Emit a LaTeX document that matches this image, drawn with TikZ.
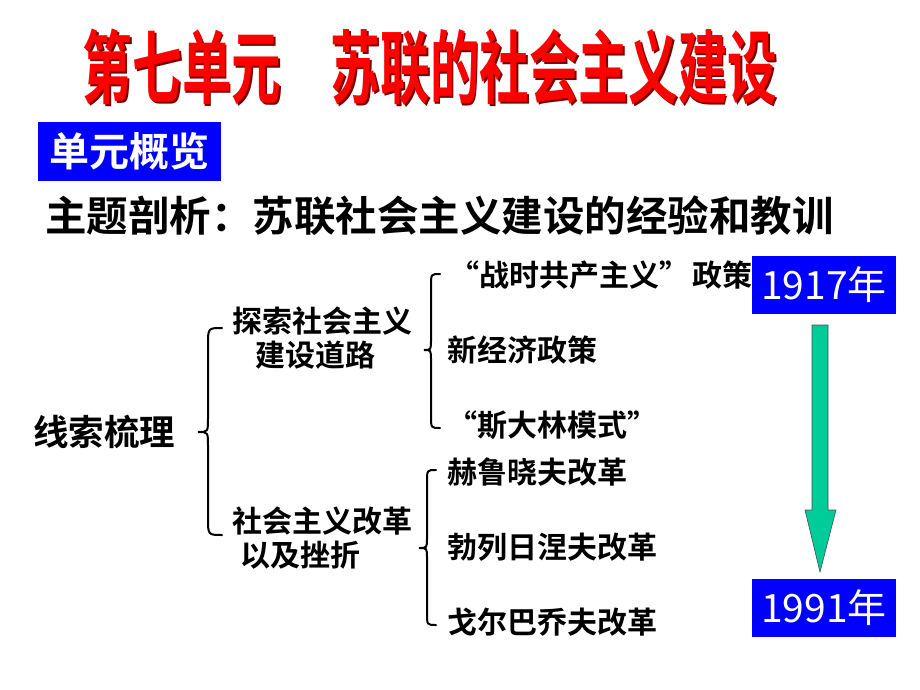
\documentclass[tikz,border=0pt]{standalone}
\usepackage{fontspec}
\setmainfont{Noto Sans CJK SC}[BoldFont={Noto Sans CJK SC Bold}]
\usepackage{graphicx}
\definecolor{boxblue}{RGB}{0,0,255}
\definecolor{titlered}{RGB}{255,0,0}
\definecolor{shadowred}{RGB}{120,0,0}
\definecolor{arrowgreen}{RGB}{0,204,153}
\newcommand{\titletext}{第七单元\hspace{1em}苏联的社会主义建设}
\begin{document}
\begin{tikzpicture}[x=1pt,y=-1pt,
  item/.style={anchor=west,inner sep=0pt,font=\bfseries\fontsize{30}{34}\selectfont},
  branch/.style={anchor=west,inner sep=0pt,align=left,font=\bfseries\fontsize{30}{34}\selectfont},
  yearbox/.style={fill=boxblue,text=white,minimum width=144pt,minimum height=58pt,inner sep=0pt,font=\fontsize{39}{39}\selectfont},
  bracel/.style={line width=2pt,line cap=round}]
\useasboundingbox (0,0) rectangle (920,690);
% title with dark red drop shadow
\node[inner sep=0pt] (title) at (430,68)
  {\scalebox{0.62}[1]{\bfseries\fontsize{80}{80}\selectfont
   \rlap{\hspace{3pt}\raisebox{-2.5pt}{\color{shadowred}\titletext}}{\color{titlered}\titletext}}};
% unit overview box
\node[fill=boxblue,text=white,minimum width=183pt,minimum height=59pt,inner sep=0pt,
  font=\bfseries\fontsize{40}{40}\selectfont] (overview) at (129.5,151.5) {单元概览};
\node[inner sep=0pt,anchor=west,font=\bfseries\fontsize{41.5}{41.5}\selectfont] (theme) at (45,216)
  {主题剖析：苏联社会主义建设的经验和教训};
% tree
\node[inner sep=0pt,anchor=west,font=\bfseries\fontsize{35.5}{35.5}\selectfont] (root) at (33,432) {线索梳理};
\node[branch] (b1) at (232,338) {探索社会主义\\\hspace{23pt}建设道路};
\node[branch] (b2) at (232,538) {社会主义改革\\\hspace{8pt}以及挫折};
\node[item] (i1) at (449,275) {“战时共产主义”\hspace{3pt}政策};
\node[item] (i2) at (447,350) {新经济政策};
\node[item] (i3) at (447,425) {“斯大林模式”};
\node[item] (i4) at (447,472) {赫鲁晓夫改革};
\node[item] (i5) at (447,547) {勃列日涅夫改革};
\node[item] (i6) at (447,622) {戈尔巴乔夫改革};
% braces
\draw[bracel] (222,328) .. controls (208,328) .. (208,345) -- (208,418)
  .. controls (208,432) .. (198,432) .. controls (208,432) .. (208,446)
  -- (208,518) .. controls (208,535) .. (222,535);
\draw[bracel] (440,274) .. controls (431,274) .. (431,286) -- (431,340)
  .. controls (431,350) .. (424,350) .. controls (431,350) .. (431,360)
  -- (431,416) .. controls (431,428) .. (440,428);
\draw[bracel] (436,470) .. controls (427,470) .. (427,482) -- (427,538)
  .. controls (427,548) .. (419,548) .. controls (427,548) .. (427,558)
  -- (427,613) .. controls (427,625) .. (436,625);
% years
\node[yearbox] (y1917) at (824,285) {1917年};
\node[yearbox] (y1991) at (824,607.5) {1991年};
\draw[fill=arrowgreen,draw=black!70,line width=0.6pt]
  (812,325) -- (828,325) -- (828,510) -- (836,510) -- (820,572) -- (805,510) -- (812,510) -- cycle;
\end{tikzpicture}
\end{document}
